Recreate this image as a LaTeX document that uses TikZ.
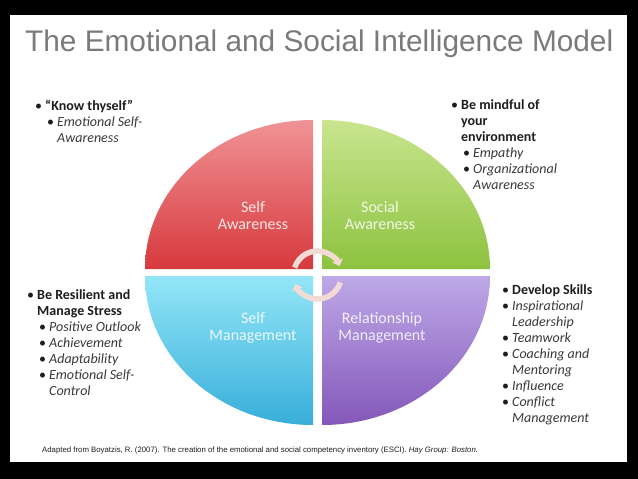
\documentclass[tikz,border=0pt]{standalone}
\usepackage{fontspec}
\setmainfont{Carlito}
\newfontfamily\titlefont{Liberation Sans}
\usetikzlibrary{arrows.meta, positioning, calc}
\definecolor{titlegray}{HTML}{7A7A7A}
\definecolor{redtop}{HTML}{F09396}
\definecolor{redbot}{HTML}{D6393D}
\definecolor{greentop}{HTML}{C9E58F}
\definecolor{greenbot}{HTML}{8DC23F}
\definecolor{bluetop}{HTML}{93E6F7}
\definecolor{bluebot}{HTML}{38AEDA}
\definecolor{purptop}{HTML}{BEA9E8}
\definecolor{purpbot}{HTML}{8457B9}
\definecolor{cycfill}{HTML}{F2DAD5}
\definecolor{bodytext}{HTML}{1E1E1E}
\definecolor{subtext}{HTML}{3A3A3A}
\newcommand{\bu}{\makebox[10pt][l]{\textbullet}}
\newcommand{\hg}{\hspace*{10pt}}
\newcommand{\sbu}{\hspace*{12pt}\makebox[10pt][l]{\textbullet}}
\newcommand{\sg}{\hspace*{22pt}}

\begin{document}
\begin{tikzpicture}[
  x=1pt, y=1pt,
  font=\fontsize{14}{16}\selectfont,
  % base anchor of a block = baseline of its last line
  blk/.style={anchor=base west, inner sep=0pt, align=left, text=bodytext},
  quad/.style={draw=none},
  qlabel/.style={align=center, text=white, text opacity=0.85,
    font=\fontsize{16}{17}\selectfont},
  cyc/.style={draw=cycfill, line width=5.5pt,
    -{Triangle[length=6pt, width=11pt]}}
]
  % frame
  \fill[black] (0,0) rectangle (638,-479);
  \fill[white] (10,-15) rectangle (627,-462);
  \useasboundingbox (0,0) rectangle (638,-479);

  \node[anchor=base west, inner sep=0pt, text=titlegray,
    font=\titlefont\fontsize{29.8}{32}\selectfont] (title) at (25,-52)
    {The Emotional and Social Intelligence Model};

  % four quadrants
  \shade[quad, top color=redtop, bottom color=redbot]
    (313,-269) -- ++(-168,0) arc[start angle=180, end angle=90, x radius=168, y radius=149] -- cycle;
  \shade[quad, top color=greentop, bottom color=greenbot]
    (322,-269) -- ++(0,149) arc[start angle=90, end angle=0, x radius=168, y radius=149] -- cycle;
  \shade[quad, top color=bluetop, bottom color=bluebot]
    (313,-276) -- ++(-168,0) arc[start angle=180, end angle=270, x radius=168, y radius=149] -- cycle;
  \shade[quad, top color=purptop, bottom color=purpbot]
    (322,-276) -- ++(168,0) arc[start angle=0, end angle=-90, x radius=168, y radius=149] -- cycle;

  \node[qlabel] (selfaw) at (253,-216) {Self\\Awareness};
  \node[qlabel] (socaw) at (380,-216) {Social\\Awareness};
  \node[qlabel] (selfman) at (253,-328) {Self\\Management};
  \node[qlabel] (relman) at (382,-328) {Relationship\\Management};

  % cycle arrows
  \coordinate (hub) at (317.5,-275);
  \draw[cyc] ([shift={(162:24)}]hub) arc[start angle=162, end angle=22, radius=24];
  \draw[cyc] ([shift={(-18:24)}]hub) arc[start angle=-18, end angle=-158, radius=24];

  % bullet lists
  \node[blk] (know) at (35,-142.5)
    {\bu\textbf{“Know thyself”}\\
     \sbu\textit{\color{subtext}Emotional Self-}\\
     \sg\textit{\color{subtext}Awareness}};
  \node[blk] (mind) at (451,-189)
    {\bu\textbf{Be mindful of}\\
     \hg\textbf{your}\\
     \hg\textbf{environment}\\
     \sbu\textit{\color{subtext}Empathy}\\
     \sbu\textit{\color{subtext}Organizational}\\
     \sg\textit{\color{subtext}Awareness}};
  \node[blk] (resil) at (27,-395)
    {\bu\textbf{Be Resilient and}\\
     \hg\textbf{Manage Stress}\\
     \sbu\textit{\color{subtext}Positive Outlook}\\
     \sbu\textit{\color{subtext}Achievement}\\
     \sbu\textit{\color{subtext}Adaptability}\\
     \sbu\textit{\color{subtext}Emotional Self-}\\
     \sg\textit{\color{subtext}Control}};
  \node[blk] (skills) at (502,-422)
    {\bu\textbf{Develop Skills}\\
     \bu\textit{\color{subtext}Inspirational}\\
     \hg\textit{\color{subtext}Leadership}\\
     \bu\textit{\color{subtext}Teamwork}\\
     \bu\textit{\color{subtext}Coaching and}\\
     \hg\textit{\color{subtext}Mentoring}\\
     \bu\textit{\color{subtext}Influence}\\
     \bu\textit{\color{subtext}Conflict}\\
     \hg\textit{\color{subtext}Management}};

  \node[anchor=base west, inner sep=0pt, text=bodytext,
    font=\titlefont\fontsize{7.8}{9}\selectfont] (source) at (42,-452)
    {Adapted from Boyatzis, R. (2007). The creation of the emotional and social competency inventory (ESCI). \textit{Hay Group: Boston.}};
\end{tikzpicture}
\end{document}
